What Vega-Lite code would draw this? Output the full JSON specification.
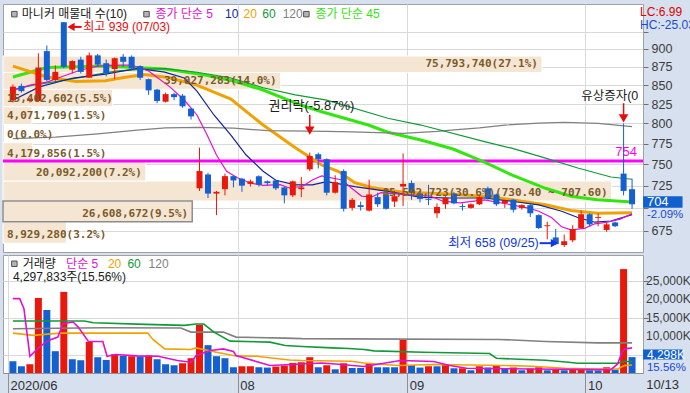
{
"$schema":"https://vega.github.io/schema/vega-lite/v6.json",
"background":"#d6e0ee",
"padding":{"left":1,"top":3,"right":0,"bottom":0},
"spacing":1,
"config":{
 "view":{"fill":"white","stroke":"#a0a0a0"},
 "font":"Liberation Sans, Noto Sans CJK KR",
 "text":{"font":"Liberation Sans, Noto Sans CJK KR"},
 "axis":{"title":null,"labelFont":"Liberation Sans","labelFontSize":12,"labelColor":"#3c3c3c","gridColor":"#d9d9d9","tickColor":"#707070","domain":false,"labelOverlap":false,"labelBound":false}
},
"datasets":{
 "candles":[
  {"i":0,"d":"06/25","o":830,"h":851,"l":827,"c":848},
  {"i":1,"d":"06/26","o":849,"h":852,"l":840,"c":842},
  {"i":2,"d":"06/29","o":829,"h":833,"l":827,"c":832},
  {"i":3,"d":"06/30","o":829,"h":894,"l":828,"c":874},
  {"i":4,"d":"07/01","o":897,"h":905,"l":855,"c":857},
  {"i":5,"d":"07/02","o":857,"h":877,"l":855,"c":868},
  {"i":6,"d":"07/03","o":939,"h":939,"l":873,"c":875},
  {"i":7,"d":"07/06","o":871,"h":884,"l":866,"c":883},
  {"i":8,"d":"07/07","o":885,"h":889,"l":866,"c":868},
  {"i":9,"d":"07/08","o":860,"h":895,"l":860,"c":891},
  {"i":10,"d":"07/09","o":891,"h":893,"l":875,"c":878},
  {"i":11,"d":"07/10","o":880,"h":885,"l":862,"c":866},
  {"i":12,"d":"07/13","o":872,"h":888,"l":858,"c":887},
  {"i":13,"d":"07/14","o":889,"h":893,"l":875,"c":882},
  {"i":14,"d":"07/15","o":889,"h":891,"l":871,"c":873},
  {"i":15,"d":"07/16","o":876,"h":877,"l":857,"c":860},
  {"i":16,"d":"07/17","o":858,"h":859,"l":837,"c":843},
  {"i":17,"d":"07/20","o":844,"h":845,"l":826,"c":829},
  {"i":18,"d":"07/21","o":828,"h":840,"l":827,"c":838},
  {"i":19,"d":"07/22","o":838,"h":840,"l":830,"c":834},
  {"i":20,"d":"07/23","o":836,"h":838,"l":820,"c":822},
  {"i":21,"d":"07/24","o":819,"h":820,"l":805,"c":809},
  {"i":22,"d":"07/27","o":722,"h":770,"l":719,"c":742},
  {"i":23,"d":"07/28","o":738,"h":740,"l":711,"c":716},
  {"i":24,"d":"07/29","o":716,"h":719,"l":692,"c":718},
  {"i":25,"d":"07/30","o":721,"h":739,"l":714,"c":736},
  {"i":26,"d":"07/31","o":736,"h":737,"l":723,"c":731},
  {"i":27,"d":"08/03","o":733,"h":734,"l":718,"c":725},
  {"i":28,"d":"08/04","o":727,"h":732,"l":724,"c":730},
  {"i":29,"d":"08/05","o":736,"h":737,"l":724,"c":726},
  {"i":30,"d":"08/06","o":730,"h":731,"l":725,"c":728},
  {"i":31,"d":"08/07","o":731,"h":732,"l":720,"c":722},
  {"i":32,"d":"08/10","o":723,"h":724,"l":705,"c":714},
  {"i":33,"d":"08/11","o":714,"h":731,"l":712,"c":730},
  {"i":34,"d":"08/12","o":721,"h":735,"l":712,"c":723},
  {"i":35,"d":"08/13","o":744,"h":764,"l":742,"c":760},
  {"i":36,"d":"08/14","o":762,"h":764,"l":745,"c":756},
  {"i":37,"d":"08/18","o":756,"h":757,"l":714,"c":717},
  {"i":38,"d":"08/19","o":717,"h":737,"l":716,"c":729},
  {"i":39,"d":"08/20","o":742,"h":744,"l":696,"c":699},
  {"i":40,"d":"08/21","o":700,"h":711,"l":697,"c":709},
  {"i":41,"d":"08/24","o":703,"h":707,"l":697,"c":701},
  {"i":42,"d":"08/25","o":697,"h":732,"l":696,"c":715},
  {"i":43,"d":"08/26","o":712,"h":717,"l":701,"c":704},
  {"i":44,"d":"08/27","o":715,"h":721,"l":698,"c":699},
  {"i":45,"d":"08/28","o":707,"h":719,"l":701,"c":713},
  {"i":46,"d":"08/31","o":724,"h":763,"l":702,"c":727},
  {"i":47,"d":"09/01","o":728,"h":731,"l":709,"c":717},
  {"i":48,"d":"09/02","o":716,"h":719,"l":706,"c":710},
  {"i":49,"d":"09/03","o":710,"h":726,"l":703,"c":709},
  {"i":50,"d":"09/04","o":694,"h":705,"l":689,"c":701},
  {"i":51,"d":"09/07","o":704,"h":713,"l":699,"c":711},
  {"i":52,"d":"09/08","o":716,"h":718,"l":704,"c":705},
  {"i":53,"d":"09/09","o":702,"h":705,"l":697,"c":701},
  {"i":54,"d":"09/10","o":700,"h":705,"l":699,"c":704},
  {"i":55,"d":"09/11","o":704,"h":713,"l":703,"c":712},
  {"i":56,"d":"09/14","o":722,"h":724,"l":709,"c":711},
  {"i":57,"d":"09/15","o":715,"h":716,"l":702,"c":704},
  {"i":58,"d":"09/16","o":705,"h":709,"l":700,"c":708},
  {"i":59,"d":"09/17","o":709,"h":710,"l":695,"c":698},
  {"i":60,"d":"09/18","o":700,"h":704,"l":698,"c":703},
  {"i":61,"d":"09/21","o":703,"h":705,"l":690,"c":694},
  {"i":62,"d":"09/22","o":692,"h":693,"l":677,"c":678},
  {"i":63,"d":"09/23","o":680,"h":685,"l":666,"c":681},
  {"i":64,"d":"09/24","o":668,"h":677,"l":660,"c":661},
  {"i":65,"d":"09/25","o":660,"h":671,"l":658,"c":664},
  {"i":66,"d":"09/28","o":665,"h":681,"l":663,"c":677},
  {"i":67,"d":"09/29","o":678,"h":697,"l":677,"c":693},
  {"i":68,"d":"10/05","o":693,"h":694,"l":680,"c":682},
  {"i":69,"d":"10/06","o":689,"h":694,"l":680,"c":690},
  {"i":70,"d":"10/07","o":676,"h":684,"l":674,"c":682},
  {"i":71,"d":"10/08","o":684,"h":685,"l":679,"c":680},
  {"i":72,"d":"10/12","o":739,"h":800,"l":714,"c":719},
  {"i":73,"d":"10/13","o":721,"h":733,"l":699,"c":704}
 ],
 "ma":[
  {"s":"ma120","i":0,"p":781},{"s":"ma120","i":5,"p":783},{"s":"ma120","i":10,"p":787},{"s":"ma120","i":15,"p":792},{"s":"ma120","i":18,"p":794.5},{"s":"ma120","i":22,"p":795},{"s":"ma120","i":26,"p":794},{"s":"ma120","i":30,"p":791},{"s":"ma120","i":37,"p":790},{"s":"ma120","i":40,"p":789.5},{"s":"ma120","i":46,"p":787.5},{"s":"ma120","i":50,"p":790},{"s":"ma120","i":52,"p":792},{"s":"ma120","i":55,"p":794.5},{"s":"ma120","i":58,"p":798},{"s":"ma120","i":62,"p":800.5},{"s":"ma120","i":65,"p":801.5},{"s":"ma120","i":69,"p":800},{"s":"ma120","i":73,"p":796},
  {"s":"ma60","i":0,"p":844},{"s":"ma60","i":2.4,"p":850},{"s":"ma60","i":6.3,"p":857},{"s":"ma60","i":12.1,"p":869},{"s":"ma60","i":15.9,"p":872},{"s":"ma60","i":18,"p":872.5},{"s":"ma60","i":21.7,"p":867.5},{"s":"ma60","i":25.6,"p":860},{"s":"ma60","i":29.5,"p":846.5},{"s":"ma60","i":33.3,"p":837},{"s":"ma60","i":37,"p":830},{"s":"ma60","i":44.2,"p":806.6},{"s":"ma60","i":48.1,"p":798},{"s":"ma60","i":55.6,"p":777.3},{"s":"ma60","i":58.8,"p":769.3},{"s":"ma60","i":62.8,"p":757.3},{"s":"ma60","i":66.6,"p":745.6},{"s":"ma60","i":70.5,"p":735},{"s":"ma60","i":73,"p":732.4},
  {"s":"ma45","i":0,"p":861},{"s":"ma45","i":4,"p":874},{"s":"ma45","i":10.9,"p":876},{"s":"ma45","i":17.9,"p":872},{"s":"ma45","i":22.5,"p":864},{"s":"ma45","i":26,"p":855.5},{"s":"ma45","i":29.5,"p":843.5},{"s":"ma45","i":34.1,"p":823},{"s":"ma45","i":36.4,"p":815},{"s":"ma45","i":41.9,"p":798},{"s":"ma45","i":44.2,"p":789},{"s":"ma45","i":48.1,"p":779.4},{"s":"ma45","i":51.9,"p":768.3},{"s":"ma45","i":55.6,"p":752.5},{"s":"ma45","i":58.8,"p":737.4},{"s":"ma45","i":62.8,"p":722},{"s":"ma45","i":65.8,"p":713},{"s":"ma45","i":68.9,"p":709},{"s":"ma45","i":73,"p":706.5},
  {"s":"ma20","i":0,"p":876},{"s":"ma20","i":4,"p":861},{"s":"ma20","i":7.4,"p":855},{"s":"ma20","i":10.9,"p":856},{"s":"ma20","i":12.9,"p":860},{"s":"ma20","i":15.5,"p":864.5},{"s":"ma20","i":18.5,"p":860},{"s":"ma20","i":21.7,"p":850},{"s":"ma20","i":25.7,"p":831.4},{"s":"ma20","i":29.5,"p":798},{"s":"ma20","i":33.3,"p":769.8},{"s":"ma20","i":36.4,"p":749.2},{"s":"ma20","i":38.4,"p":741.4},{"s":"ma20","i":40.3,"p":728.5},{"s":"ma20","i":42.3,"p":723},{"s":"ma20","i":46,"p":717.5},{"s":"ma20","i":50,"p":716},{"s":"ma20","i":55.6,"p":713},{"s":"ma20","i":58.8,"p":709},{"s":"ma20","i":62.8,"p":703.4},{"s":"ma20","i":65.8,"p":697},{"s":"ma20","i":68.9,"p":694},{"s":"ma20","i":73,"p":694.5},
  {"s":"ma10","i":0,"p":830},{"s":"ma10","i":3.1,"p":847.7},{"s":"ma10","i":7.1,"p":859.6},{"s":"ma10","i":10.9,"p":865},{"s":"ma10","i":14.7,"p":872.7},{"s":"ma10","i":17.9,"p":867.7},{"s":"ma10","i":20.2,"p":859.6},{"s":"ma10","i":21.7,"p":842},{"s":"ma10","i":23.7,"p":810.8},{"s":"ma10","i":25.7,"p":785.5},{"s":"ma10","i":27.5,"p":761},{"s":"ma10","i":29.5,"p":741.8},{"s":"ma10","i":31,"p":731.2},{"s":"ma10","i":33.3,"p":726},{"s":"ma10","i":35.3,"p":726},{"s":"ma10","i":37,"p":729.6},{"s":"ma10","i":40.3,"p":724},{"s":"ma10","i":44.2,"p":718.4},{"s":"ma10","i":48.1,"p":711.7},{"s":"ma10","i":51.9,"p":711},{"s":"ma10","i":55.6,"p":711},{"s":"ma10","i":58.8,"p":707.4},{"s":"ma10","i":62,"p":703.4},{"s":"ma10","i":64.7,"p":696.3},{"s":"ma10","i":66.6,"p":689.4},{"s":"ma10","i":68.6,"p":684.3},{"s":"ma10","i":70.5,"p":685.6},{"s":"ma10","i":73,"p":692.5},
  {"s":"ma5","i":0,"p":843},{"s":"ma5","i":2,"p":850},{"s":"ma5","i":4,"p":854},{"s":"ma5","i":5.9,"p":862},{"s":"ma5","i":8,"p":870.6},{"s":"ma5","i":10,"p":876},{"s":"ma5","i":12,"p":877.4},{"s":"ma5","i":14,"p":877.4},{"s":"ma5","i":16,"p":869.3},{"s":"ma5","i":17.1,"p":859.6},{"s":"ma5","i":18.5,"p":847.7},{"s":"ma5","i":20.2,"p":830.2},{"s":"ma5","i":21.7,"p":810.8},{"s":"ma5","i":22.9,"p":785.5},{"s":"ma5","i":24,"p":761.1},{"s":"ma5","i":25.2,"p":741.8},{"s":"ma5","i":26.4,"p":734.5},{"s":"ma5","i":28,"p":728.1},{"s":"ma5","i":29.5,"p":725.3},{"s":"ma5","i":31.5,"p":726.1},{"s":"ma5","i":32.6,"p":722.4},{"s":"ma5","i":34.1,"p":724.1},{"s":"ma5","i":35.3,"p":731.6},{"s":"ma5","i":36.4,"p":736.2},{"s":"ma5","i":38.8,"p":731.6},{"s":"ma5","i":39.9,"p":722.4},{"s":"ma5","i":41.1,"p":713.2},{"s":"ma5","i":42.3,"p":712.2},{"s":"ma5","i":43.4,"p":717},{"s":"ma5","i":46.9,"p":714.5},{"s":"ma5","i":49.2,"p":713.2},{"s":"ma5","i":50.7,"p":707.4},{"s":"ma5","i":52.7,"p":705.6},{"s":"ma5","i":55.6,"p":708.9},{"s":"ma5","i":58.8,"p":703.4},{"s":"ma5","i":60.8,"p":699.8},{"s":"ma5","i":62,"p":696.3},{"s":"ma5","i":63.5,"p":689.4},{"s":"ma5","i":64.7,"p":679.3},{"s":"ma5","i":65.8,"p":676},{"s":"ma5","i":67.4,"p":677.7},{"s":"ma5","i":68.6,"p":682.6},{"s":"ma5","i":70.1,"p":684.3},{"s":"ma5","i":71.6,"p":687.6},{"s":"ma5","i":73,"p":693.6}
 ],
 "profile":[
  {"lo":662.0,"hi":684.8,"vol":8929280,"label":"8,929,280(3.2%)"},
  {"lo":684.8,"hi":707.6,"vol":26608672,"label":"26,608,672(9.5%)"},
  {"lo":707.6,"hi":730.4,"vol":85592723,"label":"85,592,723(30.6%)(730.40 ~ 707.60)"},
  {"lo":730.4,"hi":753.2,"vol":20092200,"label":"20,092,200(7.2%)"},
  {"lo":753.2,"hi":776.0,"vol":4179856,"label":"4,179,856(1.5%)"},
  {"lo":776.0,"hi":798.8,"vol":0,"label":"0(0.0%)"},
  {"lo":798.8,"hi":821.6,"vol":4071709,"label":"4,071,709(1.5%)"},
  {"lo":821.6,"hi":844.4,"vol":15402602,"label":"15,402,602(5.5%)"},
  {"lo":844.4,"hi":867.2,"vol":39027283,"label":"39,027,283(14.0%)"},
  {"lo":867.2,"hi":890.0,"vol":75793740,"label":"75,793,740(27.1%)"}
 ],
 "vol":[
  {"i":0,"v":3179,"dir":"d"},{"i":1,"v":1820,"dir":"d"},{"i":2,"v":2364,"dir":"u"},{"i":3,"v":20296,"dir":"u"},{"i":4,"v":17036,"dir":"d"},{"i":5,"v":5896,"dir":"d"},{"i":6,"v":21926,"dir":"u"},{"i":7,"v":3722,"dir":"d"},{"i":8,"v":3450,"dir":"d"},{"i":9,"v":8424,"dir":"u"},
  {"i":10,"v":4266,"dir":"d"},{"i":11,"v":3532,"dir":"d"},{"i":12,"v":5080,"dir":"u"},{"i":13,"v":4619,"dir":"d"},{"i":14,"v":4537,"dir":"u"},{"i":15,"v":4500,"dir":"d"},{"i":16,"v":4727,"dir":"u"},{"i":17,"v":3722,"dir":"d"},{"i":18,"v":2364,"dir":"d"},{"i":19,"v":2092,"dir":"d"},
  {"i":20,"v":2636,"dir":"u"},{"i":21,"v":3994,"dir":"u"},{"i":22,"v":13042,"dir":"u"},{"i":23,"v":7526,"dir":"d"},{"i":24,"v":4537,"dir":"d"},{"i":25,"v":3994,"dir":"d"},{"i":26,"v":1549,"dir":"d"},{"i":27,"v":1820,"dir":"u"},{"i":28,"v":1820,"dir":"u"},{"i":29,"v":1549,"dir":"d"},
  {"i":30,"v":1467,"dir":"d"},{"i":31,"v":1739,"dir":"u"},{"i":32,"v":2011,"dir":"u"},{"i":33,"v":2717,"dir":"u"},{"i":34,"v":2907,"dir":"u"},{"i":35,"v":4266,"dir":"u"},{"i":36,"v":1549,"dir":"d"},{"i":37,"v":2092,"dir":"u"},{"i":38,"v":1005,"dir":"d"},{"i":39,"v":2636,"dir":"u"},
  {"i":40,"v":1358,"dir":"d"},{"i":41,"v":1358,"dir":"d"},{"i":42,"v":2636,"dir":"u"},{"i":43,"v":1549,"dir":"d"},{"i":44,"v":1549,"dir":"d"},{"i":45,"v":1549,"dir":"d"},{"i":46,"v":8966,"dir":"u"},{"i":47,"v":2174,"dir":"d"},{"i":48,"v":1467,"dir":"d"},{"i":49,"v":1820,"dir":"u"},
  {"i":50,"v":1820,"dir":"d"},{"i":51,"v":2174,"dir":"u"},{"i":52,"v":1277,"dir":"d"},{"i":53,"v":1277,"dir":"u"},{"i":54,"v":734,"dir":"d"},{"i":55,"v":1820,"dir":"u"},{"i":56,"v":1467,"dir":"d"},{"i":57,"v":1902,"dir":"u"},{"i":58,"v":1087,"dir":"d"},{"i":59,"v":1467,"dir":"u"},
  {"i":60,"v":734,"dir":"d"},{"i":61,"v":1196,"dir":"u"},{"i":62,"v":1549,"dir":"u"},{"i":63,"v":734,"dir":"d"},{"i":64,"v":914,"dir":"u"},{"i":65,"v":734,"dir":"d"},{"i":66,"v":1087,"dir":"u"},{"i":67,"v":914,"dir":"u"},{"i":68,"v":734,"dir":"d"},{"i":69,"v":700,"dir":"d"},
  {"i":70,"v":1549,"dir":"u"},{"i":71,"v":914,"dir":"d"},{"i":72,"v":28093,"dir":"u"},{"i":73,"v":4298,"dir":"d"}
 ],
 "vma":[
  {"s":"ma120","i":0,"v":11955},{"s":"ma120","i":10.6,"v":12227},{"s":"ma120","i":19.8,"v":12145},{"s":"ma120","i":21,"v":11058},{"s":"ma120","i":24.8,"v":11058},{"s":"ma120","i":26.3,"v":9700},{"s":"ma120","i":32.1,"v":9428},{"s":"ma120","i":34.1,"v":9292},{"s":"ma120","i":39.6,"v":9238},{"s":"ma120","i":57.3,"v":9075},{"s":"ma120","i":62.8,"v":8531},{"s":"ma120","i":68.9,"v":8151},{"s":"ma120","i":73,"v":8151},
  {"s":"ma60","i":0,"v":14047},{"s":"ma60","i":8.4,"v":14047},{"s":"ma60","i":9.5,"v":13585},{"s":"ma60","i":15.6,"v":13150},{"s":"ma60","i":20.2,"v":12878},{"s":"ma60","i":21.6,"v":13231},{"s":"ma60","i":22.5,"v":13231},{"s":"ma60","i":23.7,"v":11058},{"s":"ma60","i":25.6,"v":8613},{"s":"ma60","i":30.3,"v":8341},{"s":"ma60","i":32.1,"v":7444},{"s":"ma60","i":34.1,"v":7173},{"s":"ma60","i":37.6,"v":6793},{"s":"ma60","i":39.6,"v":6630},{"s":"ma60","i":41.4,"v":6358},{"s":"ma60","i":42.6,"v":5977},{"s":"ma60","i":48.4,"v":5624},{"s":"ma60","i":56.2,"v":5271},{"s":"ma60","i":57,"v":3994},{"s":"ma60","i":59.7,"v":3722},{"s":"ma60","i":62.8,"v":3450},{"s":"ma60","i":65.5,"v":2907},{"s":"ma60","i":66.6,"v":2636},{"s":"ma60","i":71.3,"v":2636},{"s":"ma60","i":72.1,"v":3097},{"s":"ma60","i":73,"v":3097},
  {"s":"ma20","i":0,"v":10786},{"s":"ma20","i":2.4,"v":10162},{"s":"ma20","i":5.5,"v":10786},{"s":"ma20","i":15.9,"v":10786},{"s":"ma20","i":16.5,"v":9075},{"s":"ma20","i":17.9,"v":6521},{"s":"ma20","i":21,"v":6358},{"s":"ma20","i":21.6,"v":6793},{"s":"ma20","i":24,"v":5624},{"s":"ma20","i":26.3,"v":4619},{"s":"ma20","i":28.7,"v":4537},{"s":"ma20","i":32.6,"v":3532},{"s":"ma20","i":34.1,"v":3369},{"s":"ma20","i":39.9,"v":3179},{"s":"ma20","i":41.4,"v":2717},{"s":"ma20","i":45.4,"v":2011},{"s":"ma20","i":49.6,"v":2282},{"s":"ma20","i":58.1,"v":2011},{"s":"ma20","i":61.2,"v":1820},{"s":"ma20","i":65.1,"v":1277},{"s":"ma20","i":68.9,"v":1087},{"s":"ma20","i":71.3,"v":1087},{"s":"ma20","i":72.1,"v":2000},{"s":"ma20","i":73,"v":2174},
  {"s":"ma5","i":0,"v":20106},{"s":"ma5","i":0.8,"v":20106},{"s":"ma5","i":1.3,"v":17389},{"s":"ma5","i":2,"v":4537},{"s":"ma5","i":3.1,"v":6983},{"s":"ma5","i":4.2,"v":8803},{"s":"ma5","i":5.3,"v":9700},{"s":"ma5","i":5.9,"v":13313},{"s":"ma5","i":7.1,"v":13775},{"s":"ma5","i":7.7,"v":12417},{"s":"ma5","i":8.9,"v":8531},{"s":"ma5","i":10.6,"v":8531},{"s":"ma5","i":11.1,"v":4537},{"s":"ma5","i":12.1,"v":4999},{"s":"ma5","i":14.7,"v":4619},{"s":"ma5","i":17.1,"v":4537},{"s":"ma5","i":19.4,"v":3369},{"s":"ma5","i":21,"v":2907},{"s":"ma5","i":21.6,"v":4727},{"s":"ma5","i":23.3,"v":6086},{"s":"ma5","i":24.8,"v":6521},{"s":"ma5","i":26,"v":5814},{"s":"ma5","i":26.3,"v":4727},{"s":"ma5","i":30.3,"v":2011},{"s":"ma5","i":34.1,"v":2445},{"s":"ma5","i":36.4,"v":2717},{"s":"ma5","i":38.4,"v":2364},{"s":"ma5","i":41.4,"v":1739},{"s":"ma5","i":45.7,"v":3369},{"s":"ma5","i":49.6,"v":3097},{"s":"ma5","i":51.5,"v":2011},{"s":"ma5","i":53.5,"v":1277},{"s":"ma5","i":61.2,"v":1087},{"s":"ma5","i":68.9,"v":924},{"s":"ma5","i":70.5,"v":924},{"s":"ma5","i":71.3,"v":2445},{"s":"ma5","i":71.8,"v":5624},{"s":"ma5","i":72.2,"v":6521},{"s":"ma5","i":73,"v":6793}
 ],
 "leg":[
  {"i":1.05,"t":"마니커 매물대 수(10)","s":"name"},
  {"i":16.8,"t":"종가 단순 5","s":"ma5"},
  {"i":25.0,"t":"10","s":"ma10"},
  {"i":27.2,"t":"20","s":"ma20"},
  {"i":29.4,"t":"60","s":"ma60"},
  {"i":31.8,"t":"120","s":"ma120"},
  {"i":35.67,"t":"종가 단순 45","s":"ma45"}
 ],
 "vleg":[
  {"i":1.16,"t":"거래량","s":"vol"},
  {"i":6.27,"t":"단순 5","s":"ma5"},
  {"i":11.2,"t":"20","s":"ma20"},
  {"i":13.5,"t":"60","s":"ma60"},
  {"i":16.0,"t":"120","s":"ma120"}
 ],
 "vticks":[
  {"v":10000,"t":"10,000K"},{"v":15000,"t":"15,000K"},{"v":20000,"t":"20,000K"},{"v":25000,"t":"25,000K"}
 ]
},
"vconcat":[
 {
  "width":640,"height":248,
  "resolve":{"scale":{"x":"independent"}},
  "layer":[
   {"data":{"name":"profile"},
    "layer":[
     {"mark":{"type":"rect","color":"#f5e6d4","stroke":"white","strokeWidth":1},
      "encoding":{"x":{"field":"vol","type":"quantitative","scale":{"domain":[0,90000000],"nice":false,"zero":false},"axis":null},"x2":{"datum":0},"y":{"field":"lo","type":"quantitative","scale":{"type":"log","domain":[652.8,966.4],"nice":false,"zero":false}},"y2":{"field":"hi"}}},
     {"transform":[{"filter":"datum.lo == 684.8"}],
      "mark":{"type":"rect","filled":false,"color":"#8c8c8c","strokeWidth":1.5},
      "encoding":{"x":{"field":"vol","type":"quantitative","scale":{"domain":[0,90000000],"nice":false,"zero":false},"axis":null},"x2":{"datum":0},"y":{"field":"lo","type":"quantitative","scale":{"type":"log","domain":[652.8,966.4],"nice":false,"zero":false}},"y2":{"field":"hi"}}}
    ]},
   {"layer":[
     {"data":{"values":[{}]},"mark":{"type":"rule","color":"#ff00ff","strokeWidth":3},
      "encoding":{"y":{"datum":754,"type":"quantitative","scale":{"type":"log","domain":[652.8,966.4],"nice":false,"zero":false}}}},
     {"data":{"name":"ma"},"transform":[{"filter":"datum.s == 'ma45' || datum.s == 'ma20'"}],
      "mark":{"type":"line","strokeWidth":3},
      "encoding":{"x":{"field":"i","type":"quantitative","scale":{"domain":[-0.58,73.7],"nice":false,"zero":false}},"y":{"field":"p","type":"quantitative","scale":{"type":"log","domain":[652.8,966.4],"nice":false,"zero":false}},"color":{"field":"s","type":"nominal","scale":{"domain":["name","ma5","ma10","ma20","ma60","ma120","ma45"],"range":["#202020","#e012d2","#14229c","#f2a200","#0f9a36","#808080","#33e60f"]},"legend":null}}},
     {"data":{"name":"ma"},"transform":[{"filter":"datum.s != 'ma45' && datum.s != 'ma20'"}],
      "mark":{"type":"line","strokeWidth":1.2},
      "encoding":{"x":{"field":"i","type":"quantitative","scale":{"domain":[-0.58,73.7],"nice":false,"zero":false}},"y":{"field":"p","type":"quantitative","scale":{"type":"log","domain":[652.8,966.4],"nice":false,"zero":false}},"color":{"field":"s","type":"nominal","scale":{"domain":["name","ma5","ma10","ma20","ma60","ma120","ma45"],"range":["#202020","#e012d2","#14229c","#f2a200","#0f9a36","#808080","#33e60f"]},"legend":null}}},
     {"data":{"name":"candles"},"mark":{"type":"rule","strokeWidth":1},
      "encoding":{
       "x":{"field":"i","type":"quantitative","scale":{"domain":[-0.58,73.7],"nice":false,"zero":false},"axis":{"orient":"bottom","values":[26.5,46.5,67.5],"grid":true,"labels":false,"ticks":false,"domain":false,"title":null}},
       "y":{"field":"l","type":"quantitative","scale":{"type":"log","domain":[652.8,966.4],"nice":false,"zero":false},"axis":{"orient":"right","values":[675,700,725,750,775,800,825,850,875,900,925],"labelExpr":"(datum.value > 910 || datum.value == 700) ? '' : format(datum.value, 'd')","grid":true,"tickSize":5,"labelPadding":3,"labelFontSize":12.5,"domain":false,"title":null,"labelOverlap":false,"labelBound":false,"labelFlush":false}},
       "y2":{"field":"h"},
       "color":{"condition":{"test":"datum.c > datum.o","value":"#e8180c"},"value":"#1560d0"}}},
     {"data":{"name":"candles"},"mark":{"type":"bar","size":6},
      "encoding":{
       "x":{"field":"i","type":"quantitative","scale":{"domain":[-0.58,73.7],"nice":false,"zero":false}},
       "y":{"field":"o","type":"quantitative","scale":{"type":"log","domain":[652.8,966.4],"nice":false,"zero":false}},
       "y2":{"field":"c"},
       "color":{"condition":{"test":"datum.c > datum.o","value":"#e8180c"},"value":"#1560d0"}}},
     {"data":{"values":[{}]},"mark":{"type":"rule","color":"#e80c0c","strokeWidth":2},
      "encoding":{"x":{"datum":6.9,"type":"quantitative"},"x2":{"datum":8.1},"y":{"datum":932,"type":"quantitative","scale":{"type":"log","domain":[652.8,966.4],"nice":false,"zero":false}}}},
     {"data":{"values":[{}]},"mark":{"type":"point","shape":"triangle-left","filled":true,"color":"#e80c0c","size":70,"opacity":1},
      "encoding":{"x":{"datum":6.85,"type":"quantitative"},"y":{"datum":932,"type":"quantitative","scale":{"type":"log","domain":[652.8,966.4],"nice":false,"zero":false}}}},
     {"data":{"values":[{}]},"mark":{"type":"text","text":"최고 939 (07/03)","align":"left","baseline":"middle","color":"#e80c0c","fontSize":12},
      "encoding":{"x":{"datum":8.3,"type":"quantitative"},"y":{"datum":932,"type":"quantitative","scale":{"type":"log","domain":[652.8,966.4],"nice":false,"zero":false}}}},
     {"data":{"values":[{}]},"mark":{"type":"rule","color":"#1038e6","strokeWidth":2},
      "encoding":{"x":{"datum":62.1,"type":"quantitative"},"x2":{"datum":63.6},"y":{"datum":662,"type":"quantitative","scale":{"type":"log","domain":[652.8,966.4],"nice":false,"zero":false}}}},
     {"data":{"values":[{}]},"mark":{"type":"point","shape":"triangle-right","filled":true,"color":"#1038e6","size":70,"opacity":1},
      "encoding":{"x":{"datum":63.85,"type":"quantitative"},"y":{"datum":662,"type":"quantitative","scale":{"type":"log","domain":[652.8,966.4],"nice":false,"zero":false}}}},
     {"data":{"values":[{}]},"mark":{"type":"text","text":"최저 658 (09/25)","align":"right","baseline":"middle","color":"#1038e6","fontSize":12.5},
      "encoding":{"x":{"datum":62.0,"type":"quantitative"},"y":{"datum":662,"type":"quantitative","scale":{"type":"log","domain":[652.8,966.4],"nice":false,"zero":false}}}},
     {"data":{"values":[{}]},"mark":{"type":"text","text":"권리락(-5.87%)","align":"center","baseline":"middle","color":"#202020","fontSize":13},
      "encoding":{"x":{"datum":35.2,"type":"quantitative"},"y":{"datum":822.4,"type":"quantitative","scale":{"type":"log","domain":[652.8,966.4],"nice":false,"zero":false}}}},
     {"data":{"values":[{}]},"mark":{"type":"rule","color":"#e80c0c","strokeWidth":1.5},
      "encoding":{"x":{"datum":35,"type":"quantitative"},"y":{"datum":811,"type":"quantitative","scale":{"type":"log","domain":[652.8,966.4],"nice":false,"zero":false}},"y2":{"datum":794}}},
     {"data":{"values":[{}]},"mark":{"type":"point","shape":"triangle-down","filled":true,"color":"#e80c0c","size":90,"opacity":1},
      "encoding":{"x":{"datum":35,"type":"quantitative"},"y":{"datum":791,"type":"quantitative","scale":{"type":"log","domain":[652.8,966.4],"nice":false,"zero":false}}}},
     {"data":{"values":[{}]},"mark":{"type":"text","text":"유상증자(0","align":"left","baseline":"middle","color":"#202020","fontSize":12.5,"clip":true},
      "encoding":{"x":{"datum":67.0,"type":"quantitative"},"y":{"datum":835.5,"type":"quantitative","scale":{"type":"log","domain":[652.8,966.4],"nice":false,"zero":false}}}},
     {"data":{"values":[{}]},"mark":{"type":"rule","color":"#e80c0c","strokeWidth":1.5},
      "encoding":{"x":{"datum":72,"type":"quantitative"},"y":{"datum":826,"type":"quantitative","scale":{"type":"log","domain":[652.8,966.4],"nice":false,"zero":false}},"y2":{"datum":809}}},
     {"data":{"values":[{}]},"mark":{"type":"point","shape":"triangle-down","filled":true,"color":"#e80c0c","size":90,"opacity":1},
      "encoding":{"x":{"datum":72,"type":"quantitative"},"y":{"datum":806.5,"type":"quantitative","scale":{"type":"log","domain":[652.8,966.4],"nice":false,"zero":false}}}},
     {"data":{"values":[{}]},"mark":{"type":"text","text":"754","align":"center","baseline":"middle","color":"#ff00ff","fontSize":13},
      "encoding":{"x":{"datum":72.3,"type":"quantitative"},"y":{"datum":764.6,"type":"quantitative","scale":{"type":"log","domain":[652.8,966.4],"nice":false,"zero":false}}}},
     {"data":{"values":[{"i":0.17},{"i":15.75},{"i":34.6}]},"mark":{"type":"point","shape":"square","filled":true,"fill":"#b4b4b4","stroke":"#505050","strokeWidth":1,"size":30,"opacity":1},
      "encoding":{"x":{"field":"i","type":"quantitative","scale":{"domain":[-0.58,73.7],"nice":false,"zero":false}},"y":{"datum":951,"type":"quantitative","scale":{"type":"log","domain":[652.8,966.4],"nice":false,"zero":false}}}},
     {"data":{"name":"leg"},"mark":{"type":"text","align":"left","baseline":"middle","fontSize":12},
      "encoding":{"x":{"field":"i","type":"quantitative","scale":{"domain":[-0.58,73.7],"nice":false,"zero":false}},"y":{"datum":951,"type":"quantitative","scale":{"type":"log","domain":[652.8,966.4],"nice":false,"zero":false}},"text":{"field":"t"},"color":{"field":"s","type":"nominal","scale":{"domain":["name","ma5","ma10","ma20","ma60","ma120","ma45"],"range":["#202020","#e012d2","#14229c","#f2a200","#0f9a36","#808080","#33e60f"]},"legend":null}}},
     {"data":{"values":[{}]},"mark":{"type":"text","text":"LC:6.99","align":"left","baseline":"middle","color":"#e00000","fontSize":12},
      "encoding":{"x":{"datum":73.95,"type":"quantitative"},"y":{"datum":954,"type":"quantitative","scale":{"type":"log","domain":[652.8,966.4],"nice":false,"zero":false}}}},
     {"data":{"values":[{}]},"mark":{"type":"text","text":"HC:-25.03","align":"left","baseline":"middle","color":"#1a4ad0","fontSize":12},
      "encoding":{"x":{"datum":73.95,"type":"quantitative"},"y":{"datum":934.5,"type":"quantitative","scale":{"type":"log","domain":[652.8,966.4],"nice":false,"zero":false}}}},
     {"data":{"values":[{}]},"mark":{"type":"rect","color":"#1060d0"},
      "encoding":{"x":{"datum":74.3,"type":"quantitative"},"x2":{"datum":78.95},"y":{"datum":713,"type":"quantitative","scale":{"type":"log","domain":[652.8,966.4],"nice":false,"zero":false}},"y2":{"datum":700}}},
     {"data":{"values":[{}]},"mark":{"type":"text","text":"704","align":"left","baseline":"middle","color":"white","fontSize":13},
      "encoding":{"x":{"datum":74.75,"type":"quantitative"},"y":{"datum":706.3,"type":"quantitative","scale":{"type":"log","domain":[652.8,966.4],"nice":false,"zero":false}}}},
     {"data":{"values":[{}]},"mark":{"type":"text","text":"-2.09%","align":"left","baseline":"middle","color":"#1a4ad0","fontSize":11.5},
      "encoding":{"x":{"datum":74.75,"type":"quantitative"},"y":{"datum":692.2,"type":"quantitative","scale":{"type":"log","domain":[652.8,966.4],"nice":false,"zero":false}}}}
   ]},
   {"data":{"name":"profile"},
    "layer":[
     {"transform":[{"filter":"datum.vol >= 16000000"}],
      "mark":{"type":"text","align":"right","baseline":"middle","dx":-4,"dy":-8,"font":"DejaVu Sans Mono","fontSize":11,"fontWeight":"bold","color":"#7a5a2a"},
      "encoding":{"x":{"field":"vol","type":"quantitative","scale":{"domain":[0,90000000],"nice":false,"zero":false},"axis":null},"y":{"field":"lo","type":"quantitative","scale":{"type":"log","domain":[652.8,966.4],"nice":false,"zero":false}},"text":{"field":"label"}}},
     {"transform":[{"filter":"datum.vol < 16000000"}],
      "mark":{"type":"text","align":"left","baseline":"middle","dx":4,"dy":-8,"font":"DejaVu Sans Mono","fontSize":11,"fontWeight":"bold","color":"#7a5a2a"},
      "encoding":{"x":{"datum":0,"type":"quantitative","scale":{"domain":[0,90000000],"nice":false,"zero":false},"axis":null},"y":{"field":"lo","type":"quantitative","scale":{"type":"log","domain":[652.8,966.4],"nice":false,"zero":false}},"text":{"field":"label"}}}
    ]}
  ]
 },
 {
  "width":640,"height":118,
  "layer":[
   {"data":{"name":"vol"},"mark":{"type":"bar","size":7},
    "encoding":{
     "x":{"field":"i","type":"quantitative","scale":{"domain":[-0.58,73.7],"nice":false,"zero":false},"axis":{"orient":"bottom","values":[-0.58,26.5,46.5,67.5],"grid":true,"labelExpr":"datum.value < 0 ? '2020/06' : datum.value < 30 ? '08' : datum.value < 50 ? '09' : '10'","labelAlign":"left","labelBaseline":"middle","labelPadding":-10,"labelOffset":2,"labelFlush":false,"labelOverlap":false,"labelBound":false,"tickSize":22,"tickColor":"#909090","ticks":true,"domain":true,"domainColor":"#909090","labelFontSize":13,"labelColor":"#303030","title":null}},
     "y":{"field":"v","type":"quantitative","scale":{"domain":[0,31900],"nice":false,"zero":false},"axis":{"orient":"right","values":[5000,10000,15000,20000,25000],"labels":false,"grid":true,"tickSize":5,"domain":false,"title":null}},
     "color":{"condition":{"test":"datum.dir == 'u'","value":"#e8180c"},"value":"#1560d0"}}},
   {"data":{"name":"vma"},"mark":{"type":"line","strokeWidth":1.6},
    "encoding":{"x":{"field":"i","type":"quantitative","scale":{"domain":[-0.58,73.7],"nice":false,"zero":false}},"y":{"field":"v","type":"quantitative","scale":{"domain":[0,31900],"nice":false,"zero":false}},"color":{"field":"s","type":"nominal","scale":{"domain":["vol","ma5","ma20","ma60","ma120"],"range":["#2b9c9c","#e012d2","#f2a200","#0f9a36","#808080"]},"legend":null}}},
   {"data":{"name":"vticks"},"mark":{"type":"text","align":"left","baseline":"middle","dx":8,"font":"Liberation Sans","fontSize":12,"color":"#3c3c3c"},
    "encoding":{"x":{"datum":73.7,"type":"quantitative"},"y":{"field":"v","type":"quantitative","scale":{"domain":[0,31900],"nice":false,"zero":false}},"text":{"field":"t"}}},
   {"data":{"values":[{"i":0.17}]},"mark":{"type":"point","shape":"square","filled":true,"fill":"#b4b4b4","stroke":"#505050","strokeWidth":1,"size":30,"opacity":1},
    "encoding":{"x":{"field":"i","type":"quantitative","scale":{"domain":[-0.58,73.7],"nice":false,"zero":false}},"y":{"datum":29534,"type":"quantitative","scale":{"domain":[0,31900],"nice":false,"zero":false}}}},
   {"data":{"name":"vleg"},"mark":{"type":"text","align":"left","baseline":"middle","fontSize":12},
    "encoding":{"x":{"field":"i","type":"quantitative","scale":{"domain":[-0.58,73.7],"nice":false,"zero":false}},"y":{"datum":29534,"type":"quantitative","scale":{"domain":[0,31900],"nice":false,"zero":false}},"text":{"field":"t"},"color":{"field":"s","type":"nominal","scale":{"domain":["vol","ma5","ma20","ma60","ma120"],"range":["#2b9c9c","#e012d2","#f2a200","#0f9a36","#808080"]},"legend":null}}},
   {"data":{"values":[{}]},"mark":{"type":"text","text":"4,297,833주(15.56%)","align":"left","baseline":"middle","color":"#202020","fontSize":12},
    "encoding":{"x":{"datum":0.0,"type":"quantitative"},"y":{"datum":26000,"type":"quantitative","scale":{"domain":[0,31900],"nice":false,"zero":false}}}},
   {"data":{"values":[{}]},"mark":{"type":"rect","color":"#1060d0"},
    "encoding":{"x":{"datum":74.3,"type":"quantitative"},"x2":{"datum":78.95},"y":{"datum":6358,"type":"quantitative","scale":{"domain":[0,31900],"nice":false,"zero":false}},"y2":{"datum":3641}}},
   {"data":{"values":[{}]},"mark":{"type":"text","text":"4,298K","align":"left","baseline":"middle","color":"white","fontSize":12},
    "encoding":{"x":{"datum":74.75,"type":"quantitative"},"y":{"datum":5000,"type":"quantitative","scale":{"domain":[0,31900],"nice":false,"zero":false}}}},
   {"data":{"values":[{}]},"mark":{"type":"text","text":"15.56%","align":"left","baseline":"middle","color":"#1a4ad0","fontSize":11.5},
    "encoding":{"x":{"datum":74.75,"type":"quantitative"},"y":{"datum":1250,"type":"quantitative","scale":{"domain":[0,31900],"nice":false,"zero":false}}}},
   {"data":{"values":[{}]},"mark":{"type":"text","text":"10/13","align":"center","baseline":"middle","color":"#303030","fontSize":13},
    "encoding":{"x":{"datum":76.6,"type":"quantitative"},"y":{"datum":-3342,"type":"quantitative","scale":{"domain":[0,31900],"nice":false,"zero":false}}}}
  ]
 }
]
}
